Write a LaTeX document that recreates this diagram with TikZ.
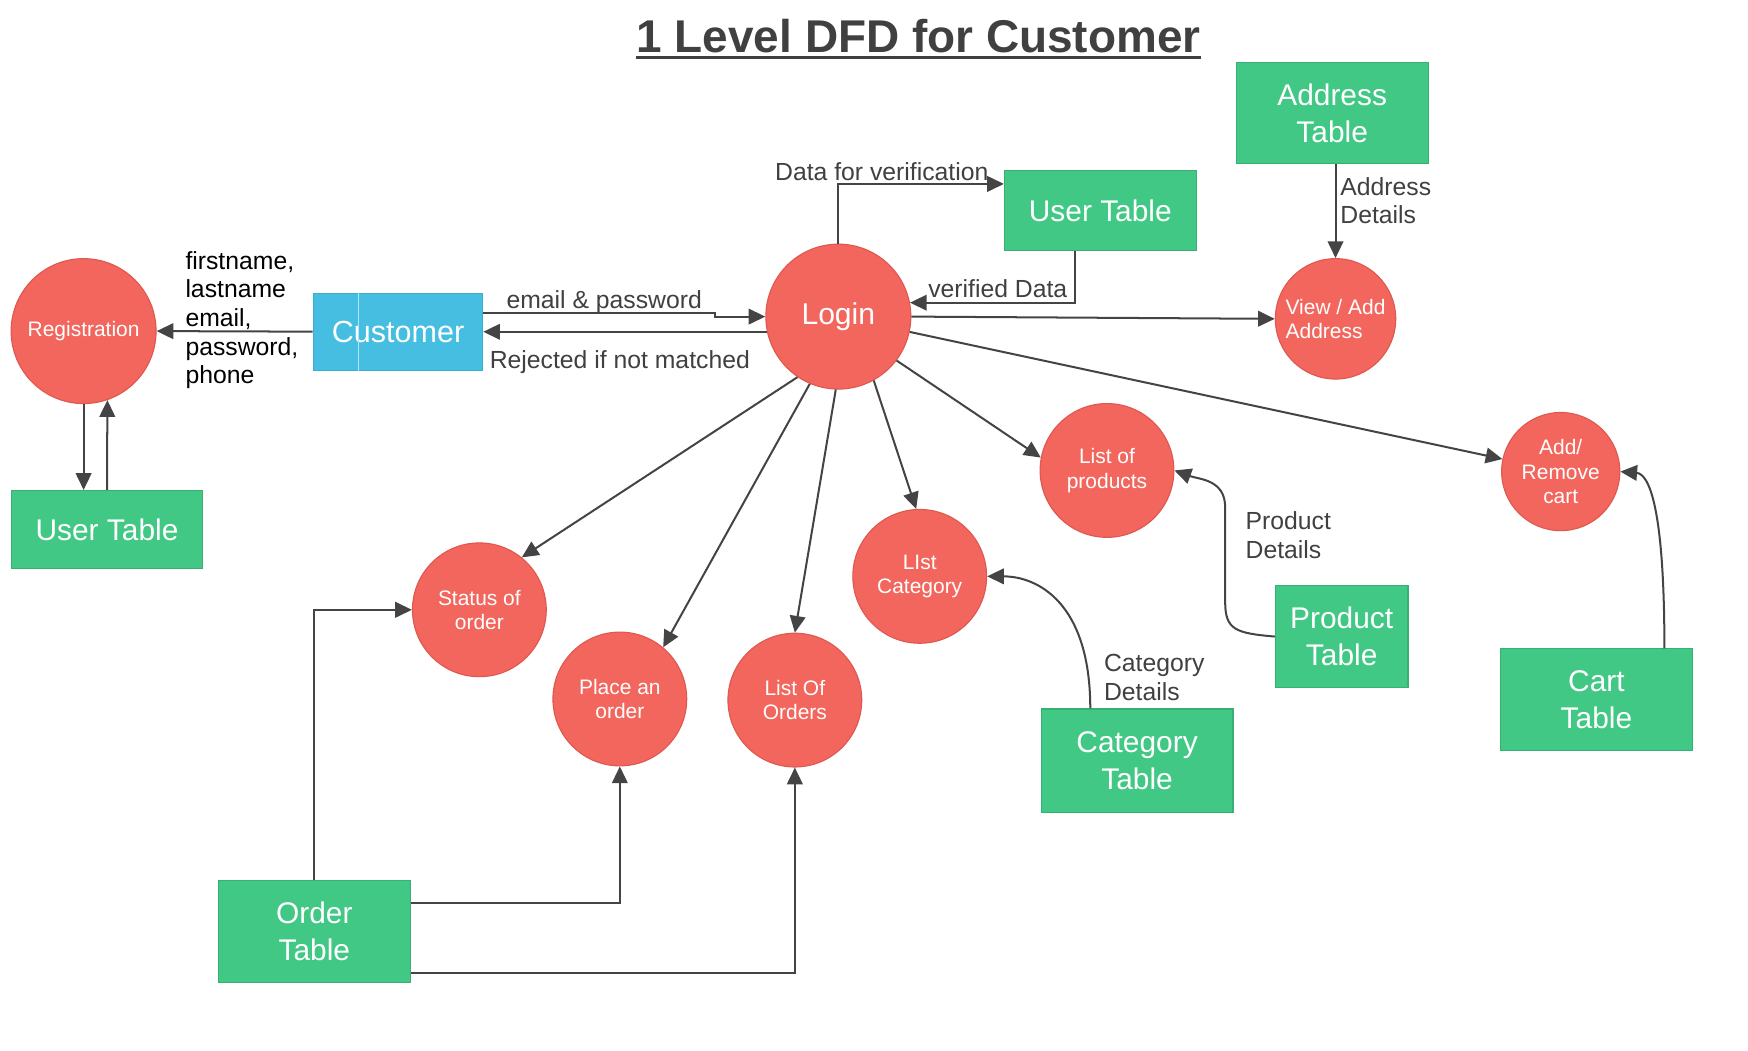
\documentclass[tikz,border=0pt]{standalone}
\usepackage{fontspec}
\setmainfont{Liberation Sans}
\usetikzlibrary{arrows.meta}
\definecolor{procred}{RGB}{242,102,93}
\definecolor{procedge}{RGB}{222,88,80}
\definecolor{storegreen}{RGB}{66,200,133}
\definecolor{storeedge}{RGB}{56,175,115}
\definecolor{custblue}{RGB}{69,190,226}
\definecolor{custedge}{RGB}{58,172,208}
\definecolor{linegray}{RGB}{68,68,68}
\definecolor{labelgray}{RGB}{64,64,64}
\definecolor{titlegray}{RGB}{64,64,64}
\begin{document}
\begin{tikzpicture}[x=0.5pt,y=-0.5pt,
  proc/.style={circle, fill=procred, draw=procedge, line width=0.5pt, text=white,
    font=\fontsize{9.4}{11}\selectfont, align=center, inner sep=0pt},
  store/.style={rectangle, fill=storegreen, draw=storeedge, line width=0.5pt, text=white,
    font=\fontsize{13.4}{16.5}\selectfont, align=center, inner sep=0pt, minimum width=86pt},
  flow/.style={draw=linegray, line width=0.9pt, -{Triangle[length=7.5pt,width=7pt]}},
  lbl/.style={text=labelgray, font=\fontsize{11.1}{12.85}\selectfont, inner sep=0pt, align=left}]
\useasboundingbox (0,0) rectangle (1568,942);

% title
\node[font=\fontsize{20.6}{24}\selectfont\bfseries, text=titlegray, inner sep=0pt] (title) at (824,32) {1 Level DFD for Customer};
\draw[titlegray, line width=1.5pt] ([yshift=-2.4pt]title.base west) -- ([yshift=-2.4pt]title.base east);

% processes
\node[proc, minimum size=65pt] (reg) at (75,297) {Registration};
\node[proc, minimum size=65pt, font=\fontsize{13.5}{16}\selectfont] (login) at (752,284) {Login};
\node[proc, minimum size=54pt, align=left] (view) at (1198,286) {View / Add\\Address};
\node[proc, minimum size=53pt] (cart) at (1400,423) {Add/\\Remove\\cart};
\node[proc, minimum size=60pt] (prod) at (993,422) {List of\\products};
\node[proc, minimum size=60pt] (cat) at (825,517) {LIst\\Category};
\node[proc, minimum size=60pt] (orders) at (713,628) {List Of\\Orders};
\node[proc, minimum size=60pt] (place) at (556,627) {Place an\\order};
\node[proc, minimum size=60pt] (status) at (430,547) {Status of\\order};

% external entity
\node[rectangle, fill=custblue, draw=custedge, line width=0.5pt, text=white, inner sep=0pt,
  minimum width=76pt, minimum height=34.5pt, font=\fontsize{13.7}{16}\selectfont] (cust) at (357,297.5) {Customer};
\draw[white!60!custblue, line width=0.5pt] ([xshift=20.5pt]cust.north west) -- ([xshift=20.5pt]cust.south west);

% data stores
\node[store, minimum height=35pt] (utl) at (96,475) {User Table};
\node[store, minimum height=36pt] (utt) at (987,189) {User Table};
\node[store, minimum height=45.5pt] (addrT) at (1195,101.5) {Address\\Table};
\node[store, minimum height=45.5pt] (cartT) at (1432,627.5) {Cart\\Table};
\node[store, minimum width=59.5pt, minimum height=46pt] (prodT) at (1203.5,571) {Product\\Table};
\node[store, minimum height=46.5pt] (catT) at (1020,682.5) {Category\\Table};
\node[store, minimum height=45.5pt] (orderT) at (282,835.5) {Order\\Table};

% helper coordinates
\coordinate (pdA) at (1099,540);
\coordinate (pdB) at (1099,455);

% flows
\draw[flow] (cust.west) -- (reg.east);
\draw[flow] (reg.south) -- (reg.south |- utl.north);
\draw[flow] (utl.north) -- (reg.-71);
\draw[flow] ([yshift=8.25pt]cust.east) -- ++(208,0) -- ++(0,3) -- (login.west);
\draw[flow] (login.192) -- (login.192 -| cust.east);
\draw[flow] (login.north) |- ([yshift=12pt]utt.west);
\draw[flow] ([xshift=-11.5pt]utt.south) |- (login.11.5);
\draw[flow] (login.east) -- (view.west);
\draw[flow] (view.north |- addrT.south) -- (view.north);
\draw[flow] (login) -- (cart);
\draw[flow] (login.-37) -- (prod.169);
\draw[flow] (login.-61) -- (cat.93);
\draw[flow] (login.-92) -- (orders.90);
\draw[flow] (login.247) -- (place.50);
\draw[flow] (login.236) -- (status.51);
\draw[flow] (orderT.north) |- (status.west);
\draw[flow] ([yshift=12.75pt]orderT.east) -| (place.south);
\draw[flow] ([yshift=-18.75pt]orderT.east) -| (orders.south);
\draw[flow] ([xshift=30.5pt]cartT.north) .. controls +(0,-130) and +(25,2) .. (cart.east);
\draw[flow] ([xshift=-21pt]catT.north) .. controls +(0,-95) and +(45,0) .. (cat.east);
\draw[flow] (prodT.west) .. controls +(-35,-3) and +(0,25) .. (pdA) -- (pdB) .. controls +(0,-25) and +(22,8) .. (prod.east);

% labels
\node[lbl, text=black, anchor=west] (regdata) at (166,287) {firstname,\\lastname\\email,\\password,\\phone};
\node[lbl] (lep) at (542,271) {email \& password};
\node[lbl] (lrej) at (556,325) {Rejected if not matched};
\node[lbl] (ldv) at (791,154) {Data for verification};
\node[lbl] (lvd) at (895,259) {verified Data};
\node[lbl, anchor=west] (lad) at (1202,180) {Address\\Details};
\node[lbl, anchor=west] (lpd) at (1117,480) {Product\\Details};
\node[lbl, anchor=west] (lcd) at (990,608) {Category\\Details};
\end{tikzpicture}
\end{document}
